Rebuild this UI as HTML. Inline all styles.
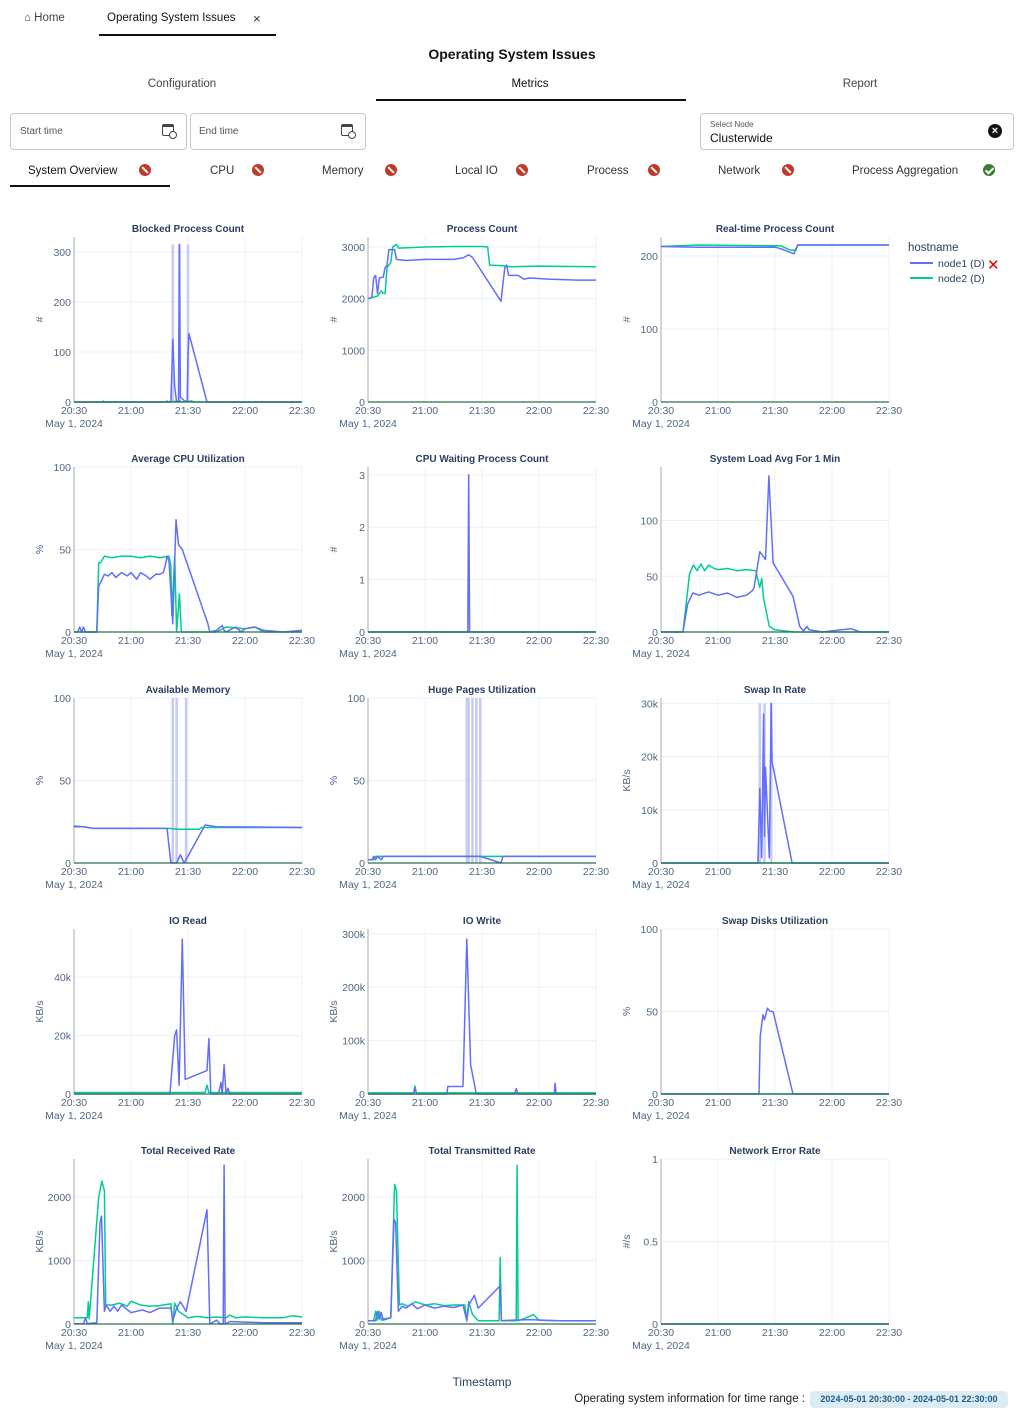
<!DOCTYPE html>
<html><head><meta charset="utf-8"><title>Operating System Issues</title>
<style>
body{margin:0;width:1024px;height:1413px;position:relative;background:#fff;font-family:"Liberation Sans",sans-serif;overflow:hidden;color:#222}
.a{position:absolute;white-space:nowrap}
.box{position:absolute;border:1px solid #c8c8c8;border-radius:4px;box-sizing:border-box}
.ic{position:absolute;width:12px;height:12px;border-radius:50%;background:#c0392b}
.ic::after{content:"";position:absolute;left:5px;top:2px;width:2px;height:8px;background:#fff;transform:rotate(-45deg)}
.ok{background:#3a7d2c}
.ok::after{left:4px;top:2px;width:3px;height:6px;background:none;border:solid #fff;border-width:0 2px 2px 0;transform:rotate(45deg)}
.st{font-size:11.5px;color:#333}
.cal{position:absolute;width:12px;height:12px;border:1.5px solid #444;border-top-width:3px;border-radius:2px;box-sizing:border-box}
.cal::after{content:"";position:absolute;right:-4px;bottom:-4px;width:6px;height:6px;border:1.2px solid #444;border-radius:50%;background:#fff}
</style></head><body>
<div class="a" style="left:24px;top:12px;font-size:11.5px;color:#444">⌂ Home</div>
<div class="a" style="left:107px;top:12px;font-size:11.5px;color:#111">Operating System Issues</div>
<div class="a" style="left:253px;top:11px;font-size:13px;color:#333">×</div>
<div class="a" style="left:99px;top:34px;width:177px;height:2px;background:#111"></div>
<div class="a" style="left:0;width:1024px;text-align:center;top:46px;font-size:14px;font-weight:bold;color:#111">Operating System Issues</div>
<div class="a" style="left:132px;width:100px;text-align:center;top:78px;font-size:11.5px;color:#444">Configuration</div>
<div class="a" style="left:480px;width:100px;text-align:center;top:78px;font-size:11.5px;color:#111">Metrics</div>
<div class="a" style="left:810px;width:100px;text-align:center;top:78px;font-size:11.5px;color:#444">Report</div>
<div class="a" style="left:376px;top:99px;width:310px;height:2px;background:#111"></div>
<div class="box" style="left:10px;top:113px;width:177px;height:37px"><span class="a" style="left:9px;top:12px;font-size:10px;color:#555">Start time</span><span class="cal" style="left:151px;top:10px"></span></div>
<div class="box" style="left:190px;top:113px;width:176px;height:37px"><span class="a" style="left:8px;top:12px;font-size:10px;color:#555">End time</span><span class="cal" style="left:150px;top:10px"></span></div>
<div class="box" style="left:700px;top:113px;width:314px;height:37px"><span class="a" style="left:9px;top:6px;font-size:8px;color:#555">Select Node</span><span class="a" style="left:9px;top:17px;font-size:12px;color:#111">Clusterwide</span><span class="a" style="left:287px;top:10px;width:14px;height:14px;border-radius:50%;background:#111;color:#fff;font-size:11px;line-height:14px;text-align:center;font-weight:bold">×</span></div>
<div class="a st" style="left:28px;top:165px;color:#111">System Overview</div><div class="ic" style="left:139px;top:164px"></div>
<div class="a st" style="left:210px;top:165px">CPU</div><div class="ic" style="left:252px;top:164px"></div>
<div class="a st" style="left:322px;top:165px">Memory</div><div class="ic" style="left:385px;top:164px"></div>
<div class="a st" style="left:455px;top:165px">Local IO</div><div class="ic" style="left:516px;top:164px"></div>
<div class="a st" style="left:587px;top:165px">Process</div><div class="ic" style="left:648px;top:164px"></div>
<div class="a st" style="left:718px;top:165px">Network</div><div class="ic" style="left:782px;top:164px"></div>
<div class="a st" style="left:852px;top:165px">Process Aggregation</div><div class="ic ok" style="left:983px;top:164px"></div>
<div class="a" style="left:10px;top:185px;width:160px;height:2px;background:#111"></div>

<svg id="charts" width="1024" height="1413" style="position:absolute;left:0;top:0" xmlns="http://www.w3.org/2000/svg" font-family="Liberation Sans, DejaVu Sans, sans-serif"></svg>

<div class="a" style="left:432px;width:100px;text-align:center;top:1375px;font-size:12px;color:#2a3f5f">Timestamp</div>
<div class="a" style="left:571px;top:1393px;font-size:11.5px;color:#222;width:234px;text-align:right">Operating system information for time range :</div>
<div class="a" style="left:810px;top:1391px;width:198px;height:17px;background:#dcecf5;border-radius:4px;font-size:9px;font-weight:bold;color:#1d5a85;line-height:17px;text-align:center">2024-05-01 20:30:00 - 2024-05-01 22:30:00</div>

<script>
// minute offsets from 20:30 (0..120) and values
const xTicks=["20:30","21:00","21:30","22:00","22:30"];
const seriesNames=["node1 (D)","node2 (D)"];
const blockedT1=[0,51,52,53,54,55,55.5,56,58,59.5,60,60.5,70,120];
const blockedV1=[0,0,125,30,0,0,315,10,3,0,90,137,0,0];
const blockedT2=[0,15,15.5,16,48,49,50,56,57,62,63,120];
const blockedV2=[0,0,2,0,0,2,0,2,0,2,0,0];
const blockedBands=[52,55.5,60];
const procT1=[0,2,3,4,5,6,8,9,10,11,14,15,20,30,45,50,53,55,70,72,73,74,79,82,85,95,110,120];
const procV1=[2000,2020,2400,2450,2100,2400,2420,2600,2650,2950,2950,2760,2740,2760,2760,2790,2850,2800,1950,2600,2650,2450,2450,2380,2400,2380,2360,2360];
const procT2=[0,5,7,8,9,10,12,13,15,16,30,45,60,63,64,70,75,90,120];
const procV2=[2000,2050,2150,2100,2100,2600,2700,3000,3050,2980,3000,3010,3010,3000,2650,2640,2620,2630,2620];
const rtT1=[0,20,60,63,70,71,72,120];
const rtV1=[213,212,212,210,203,210,215,215];
const rtT2=[0,10,20,60,63,68,71,72,120];
const rtV2=[213,214,215,214,214,208,208,215,215];
const cpuT1=[0,2,3,4,5,6,12,13,14,16,18,20,22,25,28,30,33,35,38,40,43,45,47,48,49,50,52,53.7,55,57,70.5,71.5,75,78,79,80,85,88,90,95,100,110,120];
const cpuV1=[0,0,3,0,3,0,0,28,30,35,34,36,33,36,34,36,32,36,34,32,35,35,36,40,46,43,5,68,53,50,5,0,1,4,1,0,3,0,2,3,1,0,1];
const cpuT2=[0,12,13,14,16,20,25,30,35,40,45,50,51,51.5,53,54,55.5,56.5,60,75,80,90,95,100,120];
const cpuV2=[0,0,42,42,46,45,46,46,45,46,45,46,40,10,46,0,23,0,0,0,3,2,3,0,0];
const waitT1=[0,52.5,53,53.5,120];
const waitV1=[0,0,3,0,0];
const waitT2=[0,120];
const waitV2=[0,0];
const loadT1=[0,11.6,14,16.8,20,25,30,35,40,45,48,49,52,55,56.8,59,69.5,73,75,76.8,78,85,95,100,105,120];
const loadV1=[0,0,25,35,33,36,33,35,31,33,37,40,72,65,140,62,32,5,1,5,2,0,2,3,0,0];
const loadT2=[0,11.6,15,17,19,21,23,25,28,30,35,40,45,50,50.5,52,53,54,57,60,70,120];
const loadV2=[0,0,52,60,55,61,55,60,57,56,57,55,56,55,50,40,48,30,5,2,0,0];
const memT1=[0,5,10,49,50,51,54,56,58,69,75,120];
const memV1=[22,22,21,21,10,0,0,5,0,23,22,21.5];
const memT2=[0,5,10,50,55,66,67,120];
const memV2=[22.5,22,21,21,20.5,20.5,21.5,21.5];
const memBands=[52,54,59];
const hugeT1=[0,2,3,4,5,7,8,59,70,71,120];
const hugeV1=[2,2,4,2,4,2,4,4,0,4,4];
const hugeT2=[0,3,4,120];
const hugeV2=[2,2,4,4];
const hugeBands=[52,53,55,57,59];
const swapT1=[0,51,52,53,54,54.5,55,57,58,58.5,69,120];
const swapV1=[0,0,14,1,28,5,18,1,30,19,0,0];
const swapT2=[0,120];
const swapV2=[0,0];
const swapBands=[52,54.5,58];
const ioRT1=[0,50.5,53,54,55.3,57,58.5,70,71,72,76,77.4,78,79,80,81,82,120];
const ioRV1=[0,0,20,22,3,53,5,8,19,0,0,4,0,10,0,2,0,0];
const ioRT2=[0,69,70,71,120];
const ioRV2=[0.5,0.5,3,0.5,0.5];
const ioWT1=[0,24,24.7,25.5,41.5,42,50,52,54,57,77,78,79,98,98.5,99,120];
const ioWV1=[0,0,10,0,0,14,14,290,55,0,0,10,0,0,20,0,0];
const ioWT2=[0,24,24.7,25.5,120];
const ioWV2=[2,2,15,2,2];
const sdT1=[0,51.6,52.2,53.7,54.5,56,57.5,59,69.5,120];
const sdV1=[0,0,35,48,45,52,50,50,0,0];
const sdT2=[0,120];
const sdV2=[0,0];
const rxT1=[0,5,6,7,8,12,13.7,14.5,16,17,19,21,23,25,27,30,33,36,40,45,51,52,54,56,59,70,71.5,75,77,78.5,79,79.5,82,90,100,120];
const rxV1=[5,5,100,0,10,20,1600,1700,200,300,200,280,200,300,250,180,200,220,180,250,250,50,250,350,200,1800,0,60,0,0,2500,0,40,30,20,20];
const rxT2=[0,7,7.5,8,13,14.7,16,16.7,20,24,28,30,35,40,45,51,52,53,55,60,65,70,75,80,82,85,90,100,110,115,120];
const rxV2=[100,100,350,80,2000,2250,2100,300,300,330,280,360,300,280,290,320,0,330,200,100,120,100,110,100,140,100,110,100,100,130,110];
const txT1=[0,4,5,6,7,8,12,13.7,14.5,16,18,20,23,26,30,35,40,45,50,52,53,56,58,69.5,70.2,75,85,100,120];
const txV1=[50,50,200,80,180,60,100,1650,1600,200,280,250,320,240,300,250,280,260,300,50,300,450,250,600,50,60,70,50,50];
const txT2=[0,3,4,5,6,7,8,12,14,15,16.5,18,21,25,30,35,40,45,51,52,53,55,58,69,69.6,70.2,78,78.5,79,85,87,90,100,120];
const txV2=[50,50,200,60,200,60,80,100,2200,2100,300,320,280,350,300,320,290,300,300,50,350,150,50,50,1050,50,50,2500,50,120,150,60,50,50];
const netT1=[0,120];
const netV1=[0,0];
const netT2=[0,120];
const netV2=[0,0];

const colX=[74,368,661], rowZ=[402,632,863,1094,1324], PW=228, PH=165;
const C1="#636efa", C2="#00cc96", NS="http://www.w3.org/2000/svg";
const svg=document.getElementById('charts');
function el(tag,attrs,parent){const e=document.createElementNS(NS,tag);for(const k in attrs)e.setAttribute(k,attrs[k]);(parent||svg).appendChild(e);return e;}
const charts=[
 {title:"Blocked Process Count",col:0,row:0,max:330,ticks:[0,100,200,300],lab:["0","100","200","300"],yt:"#",t1:blockedT1,v1:blockedV1,t2:blockedT2,v2:blockedV2,bands:blockedBands,bmax:315},
 {title:"Process Count",col:1,row:0,max:3194,ticks:[0,1000,2000,3000],lab:["0","1000","2000","3000"],yt:"#",t1:procT1,v1:procV1,t2:procT2,v2:procV2},
 {title:"Real-time Process Count",col:2,row:0,max:226,ticks:[0,100,200],lab:["0","100","200"],yt:"#",t1:rtT1,v1:rtV1,t2:rtT2,v2:rtV2},
 {title:"Average CPU Utilization",col:0,row:1,max:100,ticks:[0,50,100],lab:["0","50","100"],yt:"%",t1:cpuT1,v1:cpuV1,t2:cpuT2,v2:cpuV2},
 {title:"CPU Waiting Process Count",col:1,row:1,max:3.15,ticks:[0,1,2,3],lab:["0","1","2","3"],yt:"#",t1:waitT1,v1:waitV1,t2:waitT2,v2:waitV2},
 {title:"System Load Avg For 1 Min",col:2,row:1,max:148,ticks:[0,50,100],lab:["0","50","100"],yt:"",t1:loadT1,v1:loadV1,t2:loadT2,v2:loadV2},
 {title:"Available Memory",col:0,row:2,max:100,ticks:[0,50,100],lab:["0","50","100"],yt:"%",t1:memT1,v1:memV1,t2:memT2,v2:memV2,bands:memBands,bmax:100},
 {title:"Huge Pages Utilization",col:1,row:2,max:100,ticks:[0,50,100],lab:["0","50","100"],yt:"%",t1:hugeT1,v1:hugeV1,t2:hugeT2,v2:hugeV2,bands:hugeBands,bmax:100},
 {title:"Swap In Rate",col:2,row:2,max:31,ticks:[0,10,20,30],lab:["0","10k","20k","30k"],yt:"KB/s",t1:swapT1,v1:swapV1,t2:swapT2,v2:swapV2,bands:swapBands,bmax:30},
 {title:"IO Read",col:0,row:3,max:56.5,ticks:[0,20,40],lab:["0","20k","40k"],yt:"KB/s",t1:ioRT1,v1:ioRV1,t2:ioRT2,v2:ioRV2},
 {title:"IO Write",col:1,row:3,max:309,ticks:[0,100,200,300],lab:["0","100k","200k","300k"],yt:"KB/s",t1:ioWT1,v1:ioWV1,t2:ioWT2,v2:ioWV2},
 {title:"Swap Disks Utilization",col:2,row:3,max:100,ticks:[0,50,100],lab:["0","50","100"],yt:"%",t1:sdT1,v1:sdV1,t2:sdT2,v2:sdV2},
 {title:"Total Received Rate",col:0,row:4,max:2600,ticks:[0,1000,2000],lab:["0","1000","2000"],yt:"KB/s",t1:rxT1,v1:rxV1,t2:rxT2,v2:rxV2},
 {title:"Total Transmitted Rate",col:1,row:4,max:2600,ticks:[0,1000,2000],lab:["0","1000","2000"],yt:"KB/s",t1:txT1,v1:txV1,t2:txT2,v2:txV2},
 {title:"Network Error Rate",col:2,row:4,max:1,ticks:[0,0.5,1],lab:["0","0.5","1"],yt:"#/s",t1:netT1,v1:netV1,t2:netT2,v2:netV2}
];
charts.forEach(c=>{
 const x0=colX[c.col], z=rowZ[c.row];
 const g=el('g',{});
 
 
 const X=m=>x0+m*PW/120, Y=v=>z-v/c.max*PH;
 for(let i=0;i<xTicks.length;i++){
  const gl=el('line',{x1:X(i*30),x2:X(i*30),y1:z-PH,y2:z,stroke:"#ebf0f8"},g);
  
  
  const t=el('text',{x:X(i*30),y:z+12,'text-anchor':'middle','font-size':10.5,fill:"#506784"},g);
  t.textContent=xTicks[i];
  
  
 }
 const d=el('text',{x:x0,y:z+25,'text-anchor':'middle','font-size':10.5,fill:"#506784"},g);
 d.textContent="May 1, 2024";
 
 
 c.ticks.forEach((v,i)=>{
  if(v>0){const gl=el('line',{x1:x0,x2:x0+PW,y1:Y(v),y2:Y(v),stroke:"#ebf0f8"},g);
  
  }
  const t=el('text',{x:x0-3,y:Y(v)+4,'text-anchor':'end','font-size':10.5,fill:"#506784"},g);
  t.textContent=c.lab[i];
  
  
 });
 if(c.yt){const yc=z-PH/2;const t=el('text',{x:x0-31,y:yc,'text-anchor':'middle','font-size':10.5,fill:"#506784",transform:`rotate(-90 ${x0-31} ${yc})`},g);
  t.textContent=c.yt;
  
  }
 const ti=el('text',{x:x0+PW/2,y:z-PH-5,'text-anchor':'middle','font-size':10,'font-weight':'bold',fill:"#2a3f5f"},g);
 ti.textContent=c.title;
 
 
 (c.bands||[]).forEach(b=>{const l=el('line',{x1:X(b),x2:X(b),y1:z,y2:Y(c.bmax),stroke:"#c6caf7","stroke-width":2.5},g);
  
  });
 const al=el('line',{x1:x0,x2:x0,y1:z-PH,y2:z,stroke:"#aaa","stroke-width":1},g);
 
 
 [[c.t2,c.v2,C2,'node2-line'],[c.t1,c.v1,C1,'node1-line']].forEach(s=>{
  const pts=s[0].map((t,i)=>X(t).toFixed(1)+","+Y(s[1][i]).toFixed(1)).join(" ");
  const p=el('polyline',{points:pts,fill:"none",stroke:s[2],"stroke-width":1.5,"stroke-linejoin":"round"},g);
  
  
 });
 const bl=el('line',{x1:x0,x2:x0+PW,y1:z,y2:z,stroke:"#2f6f4f","stroke-width":1.2},g);
 
 
});
// legend
const lg=el('g',{});


const lh=el('text',{x:908,y:251,'font-size':11.5,fill:"#2a3f5f"},lg);lh.textContent="hostname";


[C1,C2].forEach((col,i)=>{
 const y=263+i*15;
 const l=el('line',{x1:910,x2:933,y1:y,y2:y,stroke:col,"stroke-width":2},lg);
 
 
 const t=el('text',{x:938,y:y+4,'font-size':10.5,fill:"#2a3f5f"},lg);t.textContent=seriesNames[i];
 
 
});
const rx=el('text',{x:987,y:270,'font-size':15,'font-weight':'bold',fill:"#e00000"},lg);rx.textContent="✕";


</script>
</body></html>
